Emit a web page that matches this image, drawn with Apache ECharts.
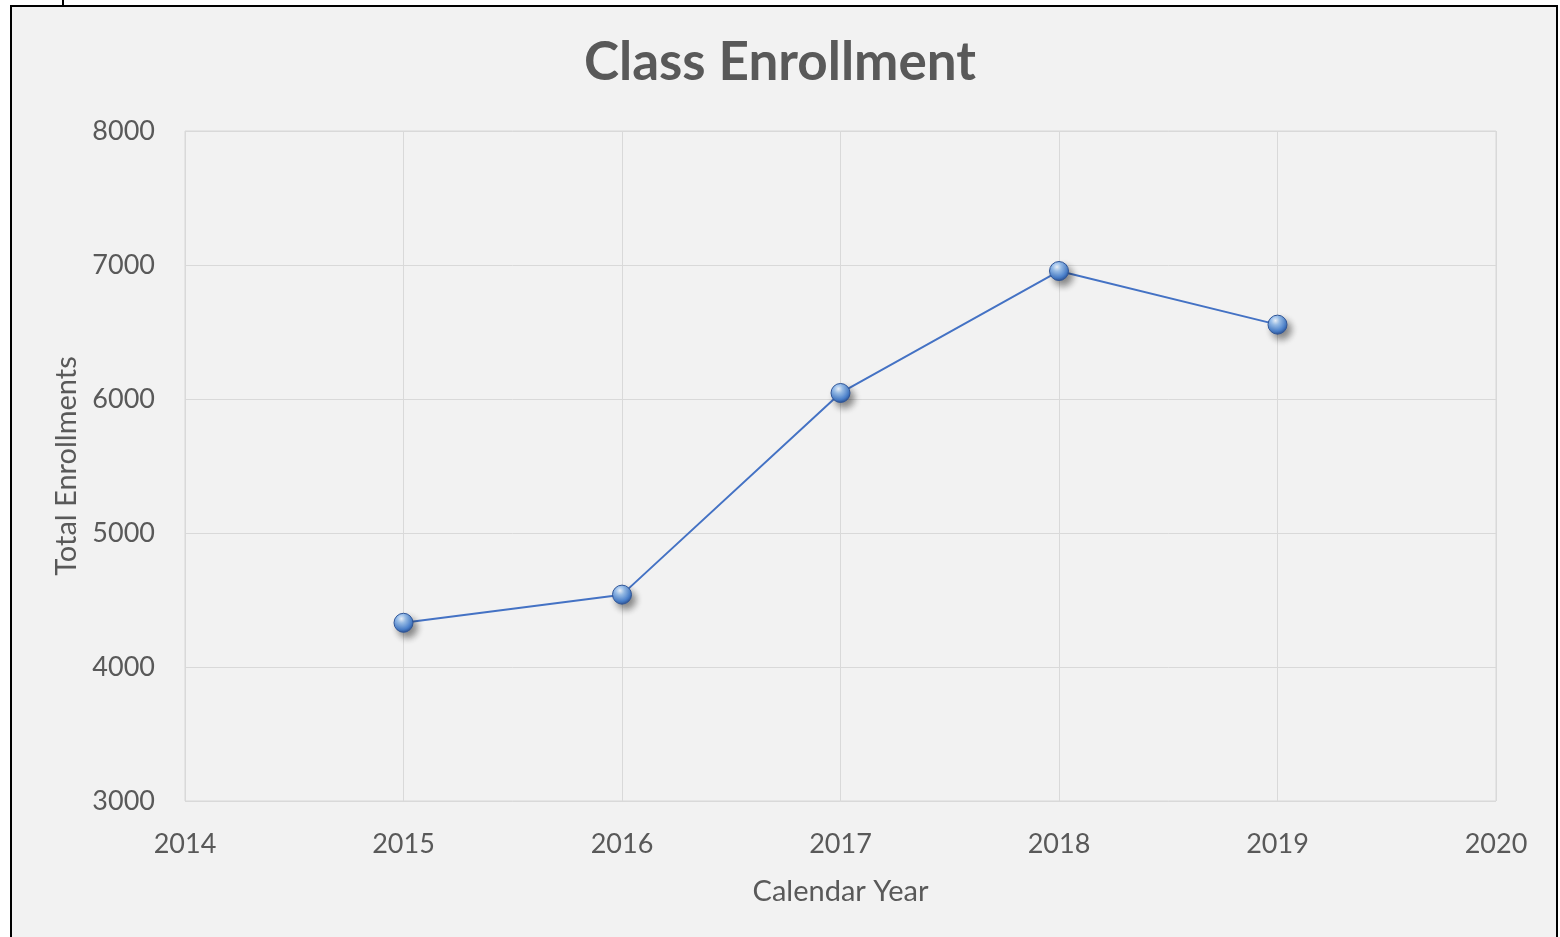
<!DOCTYPE html>
<html>
<head>
<meta charset="utf-8">
<script src="https://cdn.jsdelivr.net/npm/echarts@6/dist/echarts.min.js"></script>
<style>
  html, body { margin: 0; padding: 0; background: #fff; overflow: hidden; }
  #frame { position: absolute; left: 10px; top: 5px; width: 1544px; height: 950px;
           border: 2px solid #000; background: #f2f2f2; }
  #tick { position: absolute; left: 62px; top: 0; width: 2px; height: 6px; background: #000; }
  #chart { position: absolute; left: 0; top: 0; width: 1560px; height: 937px; }
</style>
</head>
<body>
<div id="frame"></div>
<div id="tick"></div>
<div id="chart"></div>
<script>
// enrollment per calendar year
var years = [2015, 2016, 2017, 2018, 2019];
var enrollments = [4330, 4540, 6045, 6955, 6555];

var textColor = '#595959';
var fontFam = 'Lato, "Open Sans", sans-serif';

var chart = echarts.init(document.getElementById('chart'));

var option = {
    backgroundColor: 'transparent',
    animation: false,
    title: {
        text: 'Class Enrollment',
        left: 'center',
        top: 31,
        textStyle: { color: textColor, fontSize: 53, fontWeight: 'bold', fontFamily: fontFam }
    },
    grid: {
        left: 185, right: 64, top: 131, bottom: 136,
        show: true, borderColor: '#d9d9d9', borderWidth: 1, backgroundColor: 'transparent'
    },
    xAxis: {
        type: 'value',
        min: 2014, max: 2020, interval: 1,
        name: 'Calendar Year',
        nameLocation: 'middle',
        nameGap: 76,
        nameTextStyle: { color: textColor, fontSize: 29, fontFamily: fontFam },
        axisLine: { show: false },
        axisTick: { show: false },
        axisLabel: { color: textColor, fontSize: 27, fontFamily: fontFam, margin: 30,
                     formatter: function (v) { return String(v); } },
        splitLine: { show: true, lineStyle: { color: '#d9d9d9', width: 1 } }
    },
    yAxis: {
        type: 'value',
        min: 3000, max: 8000, interval: 1000,
        name: 'Total Enrollments',
        nameLocation: 'middle',
        nameGap: 104,
        nameTextStyle: { color: textColor, fontSize: 29, fontFamily: fontFam },
        axisLine: { show: false },
        axisTick: { show: false },
        axisLabel: { color: textColor, fontSize: 27, fontFamily: fontFam, margin: 30,
                     formatter: function (v) { return String(v); } },
        splitLine: { show: true, lineStyle: { color: '#d9d9d9', width: 1 } }
    },
    series: [{
        type: 'line',
        data: years.map(function (y, i) { return [y, enrollments[i]]; }),
        symbol: 'circle',
        symbolSize: 19,
        lineStyle: { color: '#4472c4', width: 2 },
        itemStyle: {
            color: new echarts.graphic.RadialGradient(0.4, 0.3, 0.72, [
                { offset: 0, color: '#f0f7ff' },
                { offset: 0.3, color: '#9cc2ee' },
                { offset: 0.75, color: '#4a80cc' },
                { offset: 1, color: '#2a4f8f' }
            ]),
            borderColor: '#2f5597',
            borderWidth: 1,
            shadowColor: 'rgba(0,0,0,0.45)',
            shadowBlur: 7,
            shadowOffsetX: 4,
            shadowOffsetY: 5
        }
    }]
};

chart.setOption(option);
</script>
</body>
</html>
